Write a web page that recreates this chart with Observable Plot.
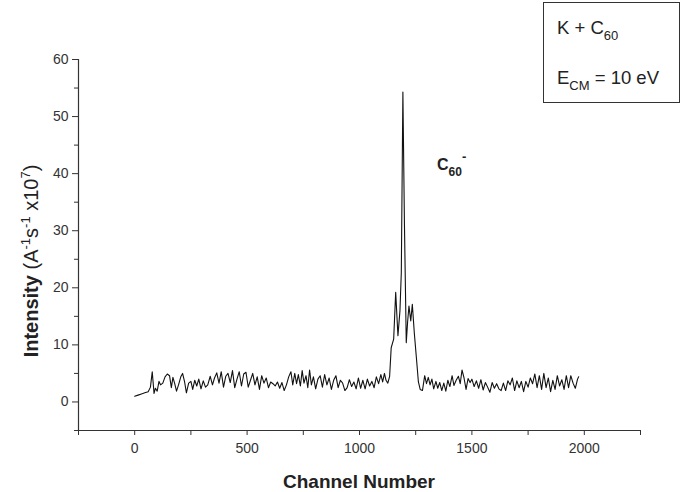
<!DOCTYPE html>
<html>
<head>
<meta charset="utf-8">
<script src="https://cdn.jsdelivr.net/npm/d3@7"></script>
<script src="https://cdn.jsdelivr.net/npm/@observablehq/plot@0.6"></script>
<style>
  html, body { margin: 0; padding: 0; background: #fff; }
  #chart { width: 685px; height: 492px; }
</style>
</head>
<body>
<div id="chart"></div>
<script>
// Channel numbers (x) and intensities (y, A^-1 s^-1 x10^7)
const channel = [
  0, 15, 30, 45, 60, 70, 78, 86, 92, 100, 108, 115, 125, 135, 145, 155, 163, 170, 178, 186,
  195, 205, 213, 222, 230, 240, 250, 258, 267, 276, 285, 295, 305, 315, 325, 336, 346, 355, 365, 375,
  385, 395, 405, 415, 425, 435, 445, 455, 465, 475, 485, 495, 505, 515, 525, 535, 545, 555, 565, 575,
  585, 595, 605, 615, 625, 635, 645, 655, 665, 675, 685, 695, 703, 712, 720, 728, 737, 745, 753, 762,
  770, 778, 786, 795, 805, 815, 825, 835, 845, 855, 865, 875, 885, 895, 905, 915, 925, 935, 945, 955,
  965, 975, 985, 995, 1005, 1015, 1025, 1035, 1045, 1055, 1065, 1075, 1085, 1095, 1103, 1111, 1118, 1126, 1134, 1141,
  1152, 1161, 1171, 1180, 1186, 1193, 1200, 1208, 1214, 1220, 1228, 1235, 1244, 1253, 1262, 1270, 1280, 1290, 1298, 1306,
  1314, 1322, 1330, 1340, 1348, 1357, 1366, 1375, 1384, 1393, 1402, 1412, 1420, 1430, 1440, 1448, 1456, 1465, 1474, 1483,
  1492, 1500, 1510, 1520, 1530, 1540, 1550, 1560, 1570, 1580, 1590, 1600, 1610, 1620, 1630, 1640, 1650, 1660, 1670, 1680,
  1690, 1700, 1710, 1720, 1730, 1740, 1750, 1760, 1770, 1780, 1790, 1800, 1810, 1820, 1830, 1840, 1850, 1860, 1870, 1880,
  1890, 1900, 1910, 1920, 1930, 1940, 1950, 1960, 1970, 1975
];
const intensity = [
  1.0, 1.2, 1.4, 1.6, 1.8, 2.6, 5.3, 1.5, 2.4, 1.9, 3.6, 3.0, 3.3, 4.4, 4.9, 4.6, 2.5, 4.3, 3.2, 1.9,
  3.0, 4.4, 5.0, 3.5, 1.6, 3.3, 3.6, 2.2, 3.8, 2.8, 4.0, 2.3, 3.7, 2.6, 3.0, 4.5, 3.0, 4.2, 5.1, 3.3,
  5.3, 2.6, 4.5, 5.0, 3.4, 5.5, 2.5, 4.0, 5.3, 2.8, 4.9, 5.2, 2.6, 3.8, 5.0, 3.0, 4.4, 2.2, 4.6, 3.3,
  4.2, 2.5, 3.5, 3.2, 2.8, 3.5, 2.4, 3.4, 2.0, 3.0, 4.4, 5.3, 3.0, 5.0, 3.2, 4.8, 2.8, 5.5, 3.3, 4.6,
  2.5, 5.6, 3.0, 4.4, 2.3, 4.0, 4.6, 2.6, 4.8, 3.0, 4.2, 2.2, 3.8, 4.6, 2.5, 3.8, 3.3, 2.0, 2.5, 3.9,
  2.7, 3.5, 2.3, 4.2, 2.4, 3.8, 2.3, 4.0, 2.8, 3.6, 2.5, 4.4, 3.2, 4.8, 3.5, 5.0, 3.8, 3.3, 4.5, 9.5,
  11.0, 19.2, 11.6, 16.0, 22.7, 54.3, 31.0, 10.4, 14.0, 16.8, 14.2, 17.1, 12.0, 7.8, 3.5, 2.2, 2.0, 4.6, 3.2, 4.3,
  3.0, 4.0, 2.3, 3.6, 2.4, 3.4, 2.0, 3.3, 1.9, 3.8, 2.7, 4.6, 2.9, 3.8, 4.5, 3.2, 5.6, 4.2, 2.2, 4.1,
  3.4, 4.0, 2.7, 3.7, 2.4, 3.9, 2.1, 3.4, 2.6, 1.7, 3.4, 2.4, 3.2, 2.3, 2.0, 3.3, 2.0, 3.7, 3.0, 4.2,
  2.0, 3.7, 2.5, 3.6, 1.8, 3.6, 2.6, 4.2, 3.2, 4.9, 2.5, 4.6, 2.2, 5.0, 2.5, 4.2, 1.8, 3.8, 2.2, 4.6,
  2.8, 3.9, 2.2, 4.6, 2.5, 4.6, 3.3, 2.4, 4.0, 4.4
];
const xMajorTicks = [0, 500, 1000, 1500, 2000];
const xMinorTicks = [-250, 250, 750, 1250, 1750, 2250];
const yMajorTicks = [0, 10, 20, 30, 40, 50, 60];
const yMinorTicks = [-5, 5, 15, 25, 35, 45, 55];

const data = channel.map((c, i) => ({channel: c, intensity: intensity[i]}));

const axisColor = "#333";
const font = "'Liberation Sans', Arial, Helvetica, sans-serif";

const chart = Plot.plot({
  width: 685,
  height: 492,
  marginTop: 59,
  marginRight: 45,
  marginBottom: 62,
  marginLeft: 78,
  style: {fontFamily: font, fontSize: "14px", background: "#fff", color: axisColor},
  x: {domain: [-250, 2250]},
  y: {domain: [-5, 60]},
  marks: [
    Plot.axisX({ticks: xMajorTicks, tickFormat: d => String(d), tickSize: 5, tickPadding: 8, fontSize: 14, label: null, stroke: axisColor, fill: axisColor}),
    Plot.axisX({ticks: xMinorTicks, tickSize: 5, text: null, label: null, stroke: axisColor}),
    Plot.axisY({ticks: yMajorTicks, tickFormat: d => String(d), tickSize: 6, tickPadding: 4, fontSize: 14, label: null, stroke: axisColor, fill: axisColor}),
    Plot.axisY({ticks: yMinorTicks, tickSize: 4, text: null, label: null, stroke: axisColor}),
    Plot.ruleX([-250], {stroke: axisColor, strokeWidth: 1.2}),
    Plot.ruleY([-5], {stroke: axisColor, strokeWidth: 1.2}),
    Plot.line(data, {x: "channel", y: "intensity", stroke: "#111", strokeWidth: 1.1})
  ]
});

document.getElementById("chart").appendChild(chart);

const svg = d3.select(chart);

// x axis title
svg.append("text")
  .attr("x", 359).attr("y", 488)
  .attr("text-anchor", "middle")
  .attr("font-family", font).attr("font-size", 19).attr("font-weight", "bold")
  .attr("fill", "#222")
  .text("Channel Number");

// y axis title with superscripts
const yl = svg.append("text")
  .attr("transform", "translate(38,261) rotate(-90)")
  .attr("text-anchor", "middle")
  .attr("font-family", font).attr("font-size", 20)
  .attr("fill", "#222");
yl.append("tspan").attr("font-weight", "bold").text("Intensity");
yl.append("tspan").text(" (A");
yl.append("tspan").attr("font-size", 13).attr("dy", -8).text("-1");
yl.append("tspan").attr("dy", 8).text("s");
yl.append("tspan").attr("font-size", 13).attr("dy", -8).text("-1");
yl.append("tspan").attr("dy", 8).text(" x10");
yl.append("tspan").attr("font-size", 13).attr("dy", -8).text("7");
yl.append("tspan").attr("dy", 8).text(")");

// legend box
svg.append("rect")
  .attr("x", 543.5).attr("y", 2.5).attr("width", 136).attr("height", 100)
  .attr("fill", "none").attr("stroke", "#333").attr("stroke-width", 1);
const t1 = svg.append("text")
  .attr("x", 557).attr("y", 34).attr("text-anchor", "start")
  .attr("font-family", font).attr("font-size", 18.5).attr("fill", "#222");
t1.append("tspan").text("K + C");
t1.append("tspan").attr("font-size", 13).attr("dy", 6).text("60");
const t2 = svg.append("text")
  .attr("x", 557).attr("y", 84).attr("text-anchor", "start")
  .attr("font-family", font).attr("font-size", 18.5).attr("fill", "#222");
t2.append("tspan").text("E");
t2.append("tspan").attr("font-size", 13).attr("dy", 6).text("CM");
t2.append("tspan").attr("dy", -6).text(" = 10 eV");

// peak annotation C60-
const pk = svg.append("text")
  .attr("x", 437).attr("y", 170).attr("text-anchor", "start")
  .attr("font-family", font).attr("font-size", 16).attr("font-weight", "bold").attr("fill", "#222");
pk.append("tspan").text("C");
pk.append("tspan").attr("font-size", 12).attr("dy", 6).text("60");
pk.append("tspan").attr("font-size", 13).attr("dy", -15).text("-");
</script>
</body>
</html>
